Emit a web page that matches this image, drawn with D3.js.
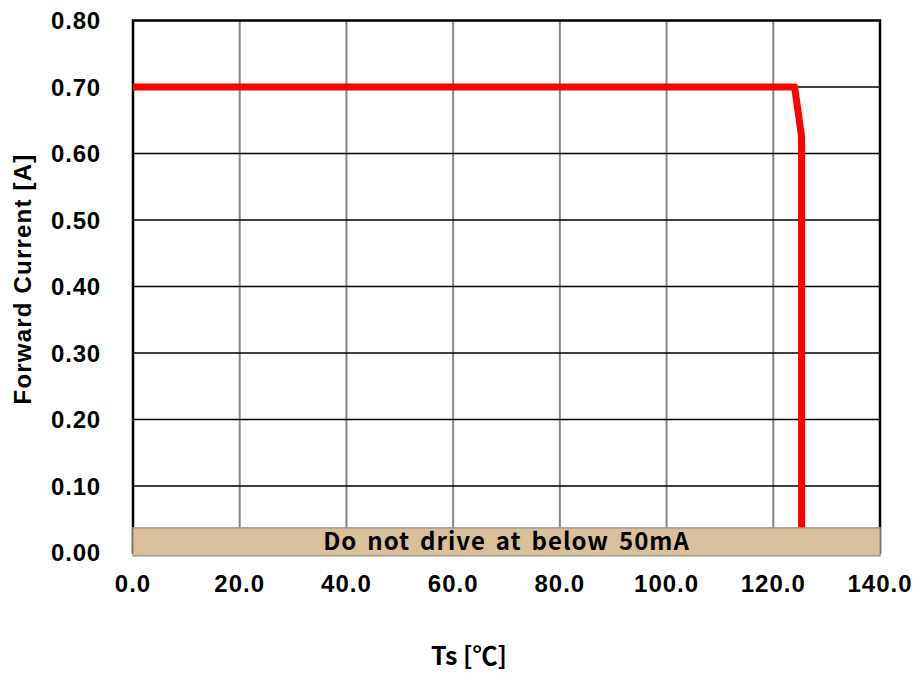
<!DOCTYPE html>
<html><head><meta charset="utf-8">
<script src="https://cdn.jsdelivr.net/npm/d3@7"></script>
<style>body{margin:0;background:#fff}</style>
</head><body>
<svg id="c" width="914" height="673"></svg>
<script>
const xTicks = [0, 20, 40, 60, 80, 100, 120, 140];
const yTicks = [0, 0.1, 0.2, 0.3, 0.4, 0.5, 0.6, 0.7, 0.8];
const tempC = [0, 124.0, 125.3, 125.3];
const currentA = [0.70, 0.70, 0.625, 0.0];
const bandRange = [-0.005, 0.037];
const bandLabel = "Do not drive at below 50mA";
const xTitle = "Ts [\u2103]";
const yTitle = "Forward Current [A]";

const svg = d3.select("#c");
const m = {l:133, r:880, t:20.5, b:552.5};
const x = d3.scaleLinear().domain([0,140]).range([m.l, m.r]);
const y = d3.scaleLinear().domain([0,0.8]).range([m.b, m.t]);

// vertical grid
svg.append("g").selectAll("line").data(xTicks.slice(1,-1)).join("line")
  .attr("x1", d=>x(d)).attr("x2", d=>x(d)).attr("y1", m.t).attr("y2", m.b)
  .attr("stroke", "#868686").attr("stroke-width", 2);
// horizontal grid
svg.append("g").selectAll("line").data(yTicks.slice(1,-1)).join("line")
  .attr("x1", m.l).attr("x2", m.r).attr("y1", d=>y(d)).attr("y2", d=>y(d))
  .attr("stroke", "#000").attr("stroke-width", 1.3);

// border
svg.append("rect").attr("x", m.l).attr("y", m.t).attr("width", m.r-m.l).attr("height", m.b-m.t)
  .attr("fill", "none").attr("stroke", "#000").attr("stroke-width", 2.5);

// line
const line = d3.line().x(d=>x(d[0])).y(d=>y(d[1]));
svg.append("path").datum(tempC.map((t,i)=>[t,currentA[i]]))
  .attr("d", line).attr("fill","none").attr("stroke","#ff0000").attr("stroke-width",7)
  .attr("stroke-linejoin","round");

// band
svg.append("rect").attr("x", x(0)).attr("width", x(140)-x(0))
  .attr("y", y(bandRange[1])).attr("height", y(bandRange[0])-y(bandRange[1]))
  .attr("fill", "#d9c09b").attr("stroke", "#a09a90").attr("stroke-width", 1.5);
svg.append("text").attr("x", (m.l+m.r)/2).attr("y", y((bandRange[0]+bandRange[1])/2)+8.5)
  .attr("text-anchor","middle").attr("font-family","'Noto Sans CJK KR', sans-serif")
  .attr("font-weight","bold").attr("font-size",24).attr("fill","#000")
  .attr("letter-spacing", 1).attr("word-spacing", 3.5).text(bandLabel);

// axes labels
const tf = "Arial, 'Liberation Sans', sans-serif";
svg.append("g").selectAll("text").data(yTicks).join("text")
  .attr("x", 101).attr("y", d=>y(d)+8.5).attr("text-anchor","end")
  .attr("font-family", tf).attr("font-weight","bold").attr("font-size",24)
  .attr("letter-spacing", 0.8)
  .text(d=>d.toFixed(2));
svg.append("g").selectAll("text").data(xTicks).join("text")
  .attr("x", d=>x(d)).attr("y", 592).attr("text-anchor","middle")
  .attr("font-family", tf).attr("font-weight","bold").attr("font-size",24)
  .attr("letter-spacing", 1)
  .text(d=>d.toFixed(1));

svg.append("text").attr("x", 469).attr("y", 665).attr("text-anchor","middle")
  .attr("font-family","'Noto Sans CJK KR', sans-serif").attr("font-weight","bold").attr("font-size",25)
  .text(xTitle);
svg.append("text").attr("transform","translate(31,279) rotate(-90)").attr("text-anchor","middle")
  .attr("font-family", tf).attr("font-weight","bold").attr("font-size",24)
  .attr("letter-spacing", 1.2)
  .text(yTitle);
</script>
</body></html>
